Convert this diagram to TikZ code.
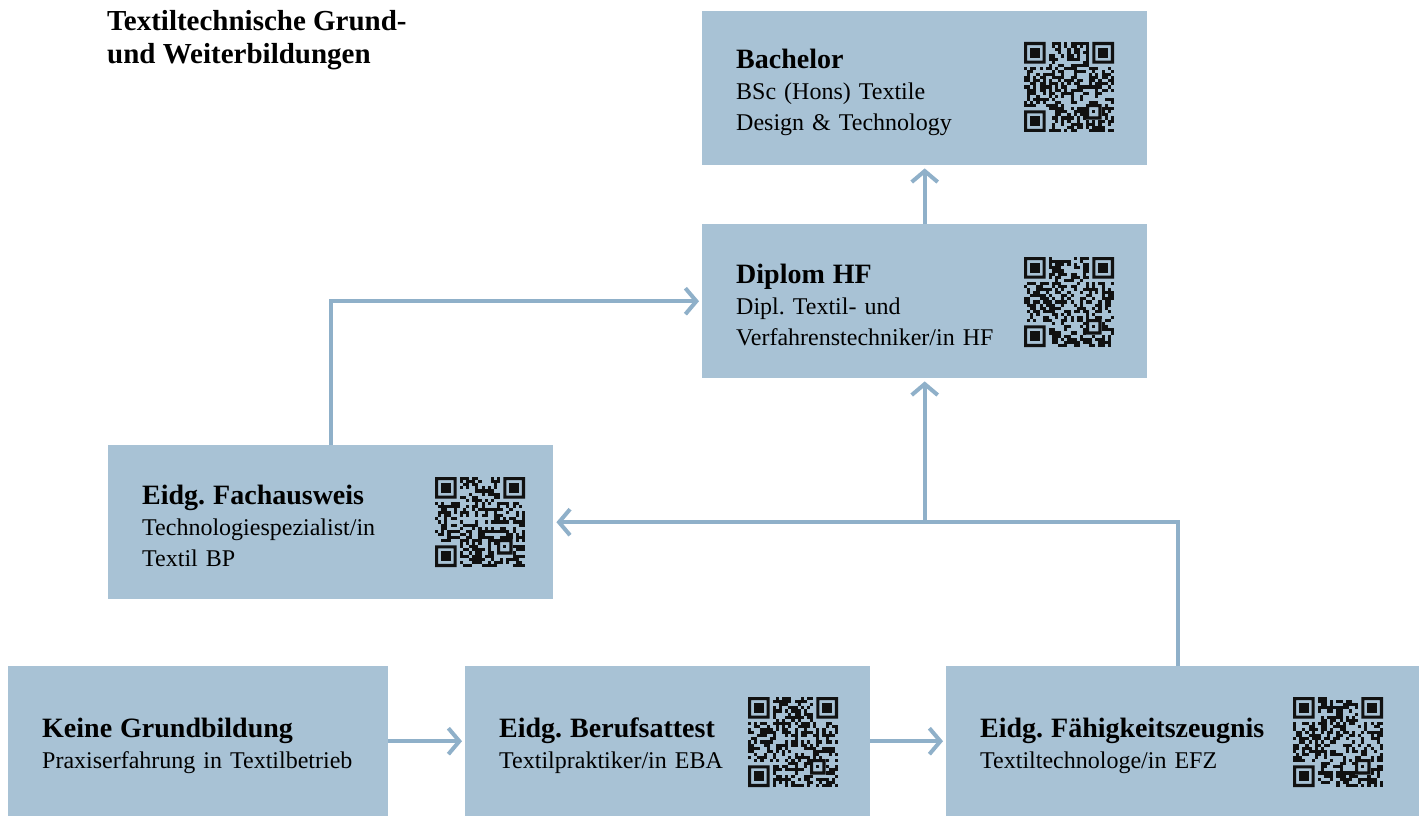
\documentclass[tikz,border=0pt]{standalone}
\usepackage{fontspec}
\setmainfont{Liberation Serif}
\usetikzlibrary{positioning,arrows.meta,calc}

\definecolor{boxblue}{HTML}{A8C2D5}
\definecolor{linkblue}{HTML}{8FB0C9}
\definecolor{qrink}{HTML}{111111}

\frenchspacing
\newcommand{\headfont}{\fontsize{28}{31}\selectfont\bfseries}
\newcommand{\bodyfont}{\fontsize{24}{31}\selectfont}
\newcommand{\head}[2][27pt]{{\headfont\rule{0pt}{#1}#2}}
\newcommand{\qrm}{3.1034}

\tikzset{
  stage/.style={rectangle, fill=boxblue, anchor=north west, align=left,
    inner xsep=34pt, inner ysep=0pt, font=\bodyfont},
  wide/.style={minimum width=445pt, text width=377pt, minimum height=154pt},
  link/.style={draw=linkblue, line width=4pt,
    -{Straight Barb[length=11pt,width=26pt]}, shorten >=3pt},
  qr/.pic={
    \pgfmathsetseed{#1}
    \foreach \i in {0,...,28}{
      \foreach \j in {0,...,28}{
        \pgfmathtruncatemacro{\keep}{((\i<8 && \j<8) || (\i>20 && \j<8) || (\i<8 && \j>20)) ? 0 : (rnd<0.5)}
        \ifnum\keep=1 \fill[qrink] (\i*\qrm,\j*\qrm) rectangle ++(\qrm,\qrm); \fi
      }
    }
    % finder patterns
    \foreach \fx/\fy in {0/0,22/0,0/22}{
      \fill[qrink,even odd rule] (\fx*\qrm,\fy*\qrm) rectangle ({(\fx+7)*\qrm},{(\fy+7)*\qrm})
        ({(\fx+1)*\qrm},{(\fy+1)*\qrm}) rectangle ({(\fx+6)*\qrm},{(\fy+6)*\qrm});
      \fill[qrink] ({(\fx+2)*\qrm},{(\fy+2)*\qrm}) rectangle ({(\fx+5)*\qrm},{(\fy+5)*\qrm});
    }
    % alignment pattern
    \fill[boxblue] (20*\qrm,20*\qrm) rectangle (25*\qrm,25*\qrm);
    \fill[qrink,even odd rule] (20*\qrm,20*\qrm) rectangle (25*\qrm,25*\qrm)
      (21*\qrm,21*\qrm) rectangle (24*\qrm,24*\qrm);
    \fill[qrink] (22*\qrm,22*\qrm) rectangle (23*\qrm,23*\qrm);
  }
}

\begin{document}
\begin{tikzpicture}[x=1pt, y=-1pt]
    \useasboundingbox (0,0) rectangle (1419,816);

    \node[anchor=north west, align=left, inner sep=0pt,
      font=\fontsize{29}{33}\selectfont\bfseries] (title) at (107,10)
      {Textiltechnische Grund-\\und Weiterbildungen};

    \node[stage, wide] (bach) at (702,11)
      {\head{Bachelor}\\BSc (Hons) Textile\\Design \& Technology};
    \node[stage, wide] (dipl) at (702,224)
      {\head{Diplom HF}\\Dipl. Textil- und\\Verfahrenstechniker/in HF};
    \node[stage, wide] (fach) at (108,445)
      {\head{Eidg. Fachausweis}\\Technologiespezialist/in\\Textil BP};
    \node[stage, minimum width=380pt, text width=312pt, minimum height=150pt] (keine) at (8,666)
      {\head[29pt]{Keine Grundbildung}\\Praxiserfahrung in Textilbetrieb};
    \node[stage, minimum width=405pt, text width=337pt, minimum height=150pt] (beruf) at (465,666)
      {\head[29pt]{Eidg. Berufsattest}\\Textilpraktiker/in EBA};
    \node[stage, minimum width=473pt, text width=405pt, minimum height=150pt] (faeh) at (946,666)
      {\head[29pt]{Eidg. F\"ahigkeitszeugnis}\\Textiltechnologe/in EFZ};

    \pic (qrbach) at (1024,42) {qr=11};
    \pic (qrdipl) at (1024,257) {qr=23};
    \pic (qrfach) at (435,477) {qr=37};
    \pic (qrberuf) at (748,697) {qr=41};
    \pic (qrfaeh) at (1293,697) {qr=59};

    \coordinate (rise) at ([xshift=232pt]faeh.north west);

    \draw[link] (keine.east) -- (beruf.west);
    \draw[link] (beruf.east) -- (faeh.west);
    \draw[link] (rise) |- (fach.east);
    \draw[link] (fach.east -| dipl.south) -- (dipl.south);
    \draw[link] (fach.north) |- (dipl.west);
    \draw[link] (dipl.north) -- (bach.south);
\end{tikzpicture}
\end{document}
